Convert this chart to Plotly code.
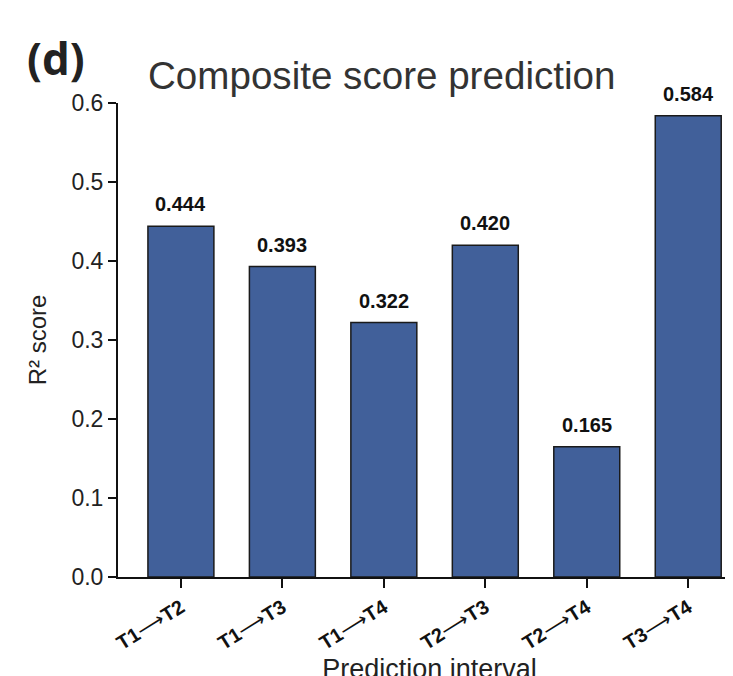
import plotly.graph_objects as go

categories = ["T1⟶T2", "T1⟶T3", "T1⟶T4", "T2⟶T3", "T2⟶T4", "T3⟶T4"]
r2_scores = [0.444, 0.393, 0.322, 0.420, 0.165, 0.584]
y_ticks = [0.0, 0.1, 0.2, 0.3, 0.4, 0.5, 0.6]
y_tick_labels = ["0.0", "0.1", "0.2", "0.3", "0.4", "0.5", "0.6"]

FONT = "Liberation Sans, Arial, sans-serif"


def fmt_label(c):
    a, b = c.split("⟶")
    return f"<b>{a}</b>⟶<b>{b}</b>"


fig = go.Figure()
fig.add_trace(go.Bar(
    x=list(range(len(categories))),
    y=r2_scores,
    marker=dict(color="#41609A", line=dict(color="#1a1a1a", width=1.5)),
    width=0.65,
    hoverinfo="x+y",
))

for i, v in enumerate(r2_scores):
    fig.add_annotation(x=i, y=v, text=f"<b>{v:.3f}</b>", showarrow=False,
                       yanchor="bottom", yshift=9,
                       font=dict(family=FONT, size=20, color="#111"))

fig.add_annotation(xref="paper", yref="paper", x=-0.15, y=1.095,
                   xanchor="left", yanchor="middle", text="<b>(d)</b>", showarrow=False,
                   font=dict(family="Open Sans, sans-serif", size=44, color="#222"))

fig.update_layout(
    width=733, height=676,
    margin=dict(l=110, r=0, t=95, b=107),
    paper_bgcolor="white", plot_bgcolor="white",
    showlegend=False,
    title=dict(text="Composite score prediction", x=140 / 733, xanchor="left", xref="container",
               y=1 - 67 / 676, yanchor="middle",
               font=dict(family=FONT, size=38.6, color="#333")),
    font=dict(family=FONT, color="#222"),
)

fig.update_xaxes(
    tickvals=list(range(len(categories))), ticktext=[fmt_label(c) for c in categories],
    range=[-0.62, 5.52], tickangle=-32, automargin=False,
    showline=True, linecolor="#111", linewidth=2,
    ticks="outside", ticklen=9, tickwidth=2, tickcolor="#111",
    tickfont=dict(family=FONT, size=20, color="#111"),
    showgrid=False, zeroline=False,
    title=dict(text="Prediction interval", font=dict(family=FONT, size=27, color="#222"), standoff=29),
)
fig.update_yaxes(
    range=[0, 0.6], tickvals=y_ticks, ticktext=y_tick_labels, automargin=False,
    showline=True, linecolor="#111", linewidth=2,
    ticks="outside", ticklen=8, tickwidth=2, tickcolor="#111",
    tickfont=dict(family=FONT, size=23, color="#222"),
    showgrid=False, zeroline=False,
    title=dict(text="R² score", font=dict(family=FONT, size=24, color="#222"), standoff=18),
)

fig.write_html("out.html")
